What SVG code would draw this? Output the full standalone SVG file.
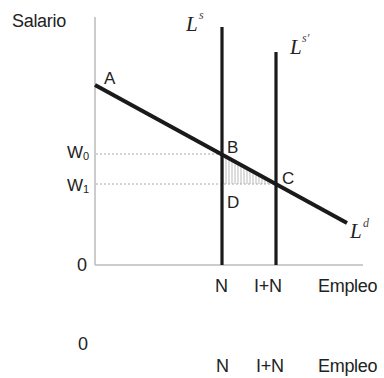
<svg xmlns="http://www.w3.org/2000/svg" width="384" height="378" viewBox="0 0 384 378">
<defs>
<style>
.t{font-family:"Liberation Sans",Arial,sans-serif;font-size:18px;fill:#222;letter-spacing:-0.3px}
.lb{font-family:"Liberation Sans",Arial,sans-serif;font-size:17px;fill:#222}
.L{font-family:"Liberation Serif","Times New Roman",serif;font-style:italic;font-size:21px;fill:#222}
.sup{font-family:"Liberation Serif","Times New Roman",serif;font-style:italic;font-size:12px;fill:#444}
.axis{stroke:#bbb;stroke-width:1.5;fill:none}
.dot{stroke:#aaa;stroke-width:1;stroke-dasharray:2 2;fill:none}
.curve{stroke:#1a1a1a;fill:none}
</style>
<pattern id="hatch" width="3" height="10" patternUnits="userSpaceOnUse">
<line x1="1" y1="0" x2="1" y2="10" stroke="#bbb" stroke-width="1"/>
</pattern>
</defs>
<rect width="384" height="378" fill="#fff"/>
<g id="axes">
<line class="axis" x1="95" y1="17" x2="95" y2="265"/>
<line class="axis" x1="95" y1="265" x2="363" y2="265"/>
<text class="t" x="12" y="27">Salario</text>
<text class="t" x="77" y="271">0</text>
</g>
<g id="shade">
<polygon points="222,154 276,184 222,184" fill="url(#hatch)"/>
</g>
<g id="connectors">
<line class="dot" x1="96" y1="154" x2="222" y2="154"/>
<line class="dot" x1="96" y1="184" x2="276" y2="184"/>
</g>
<g id="Ls">
<line class="curve" stroke-width="3.2" x1="222" y1="27" x2="222" y2="265"/>
<text class="L" x="186" y="31">L</text><text class="sup" x="199" y="19">s</text>
</g>
<g id="Ls2">
<line class="curve" stroke-width="3.2" x1="276" y1="52" x2="276" y2="265"/>
<text class="L" x="290" y="54">L</text><text class="sup" x="302" y="42">s'</text>
</g>
<g id="Ld">
<line class="curve" stroke-width="4" x1="95" y1="85" x2="347" y2="223"/>
<text class="L" x="350" y="238">L</text><text class="sup" x="363" y="227">d</text>
</g>
<g id="labels">
<text class="lb" x="104" y="84">A</text>
<text class="lb" x="227" y="153">B</text>
<text class="lb" x="282" y="184">C</text>
<text class="lb" x="227" y="208">D</text>
<text class="lb" x="67" y="158">W<tspan font-size="11" dy="2">0</tspan></text>
<text class="lb" x="67" y="191">W<tspan font-size="11" dy="2">1</tspan></text>
</g>
<g id="xlabels">
<text class="t" x="215" y="292">N</text>
<text class="t" x="254" y="292">I+N</text>
<text class="t" x="318" y="292">Empleo</text>
</g>
<g id="xlabels2">
<text class="t" x="78" y="350">0</text>
<text class="t" x="216" y="372">N</text>
<text class="t" x="256" y="372" letter-spacing="-1.5">I+N</text>
<text class="t" x="318" y="372">Empleo</text>
</g>
</svg>
